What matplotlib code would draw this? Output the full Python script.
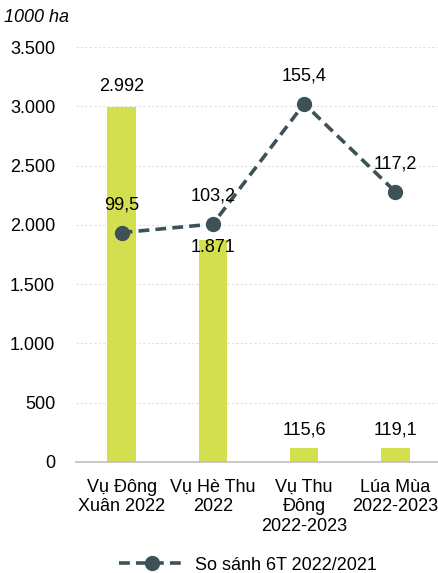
import matplotlib.pyplot as plt

plt.rcParams['font.family'] = ['Liberation Sans', 'DejaVu Sans']

# data
categories = ["Vụ Đông\nXuân 2022", "Vụ Hè Thu\n2022", "Vụ Thu\nĐông\n2022-2023", "Lúa Mùa\n2022-2023"]
area = [2992, 1871, 115.6, 119.1]            # 1000 ha
area_labels = ["2.992", "1.871", "115,6", "119,1"]
ratio = [99.5, 103.2, 155.4, 117.2]           # so sánh 6T 2022/2021 (%)
ratio_labels = ["99,5", "103,2", "155,4", "117,2"]
yticks = [0, 500, 1000, 1500, 2000, 2500, 3000, 3500]
ytick_labels = ["0", "500", "1.000", "1.500", "2.000", "2.500", "3.000", "3.500"]

bar_color = "#d3df4e"
line_color = "#3e5159"

fig = plt.figure(figsize=(4.39, 5.73), dpi=100)
ax = fig.add_axes([76 / 439, 111 / 573, 365 / 439, 415 / 573])
x = list(range(len(categories)))

ax.bar(x, area, width=0.31, color=bar_color, zorder=2)
ax.set_ylim(0, 3500)
ax.set_xlim(-0.5, 3.5)
ax.set_yticks(yticks)
ax.set_yticklabels(ytick_labels, fontsize=13)
ax.set_xticks(x)
ax.set_xticklabels(categories, fontsize=13, linespacing=1.2)
ax.tick_params(axis='both', length=0)
ax.tick_params(axis='x', pad=12)
ax.tick_params(axis='y', pad=15)
ax.grid(axis='y', color='#e0e0e0', linestyle=(0, (2, 2)), linewidth=0.8, zorder=0)
for s in ['top', 'right', 'left']:
    ax.spines[s].set_visible(False)
ax.spines['bottom'].set_color('#bfbfbf')
ax.spines['bottom'].set_linewidth(1.2)

# bar value labels (offsets in points)
bar_offsets = [15, -5, 13, 13]
for xi, v, lab, off in zip(x, area, area_labels, bar_offsets):
    ax.annotate(lab, (xi, v), xytext=(0, off), textcoords='offset points',
                ha='center', va='center', fontsize=13)

ax2 = ax.twinx()
ax2.set_ylim(0, 180)
ax2.axis('off')
ax2.plot(x, ratio, color=line_color, linewidth=2.6, linestyle=(0, (3, 1.7)),
         marker='o', markersize=10, label="So sánh 6T 2022/2021", zorder=3)
for xi, v, lab in zip(x, ratio, ratio_labels):
    ax2.annotate(lab, (xi, v), xytext=(0, 20), textcoords='offset points',
                 ha='center', va='center', fontsize=13)

fig.text(4 / 439, 1 - 18 / 573, "1000 ha", fontsize=13, style='italic', va='center')

fig.legend(loc='center', bbox_to_anchor=(248 / 439, 1 - 565 / 573), frameon=False,
           fontsize=13, handlelength=3.6, handletextpad=0.6)

fig.savefig("out.png", dpi=100)
